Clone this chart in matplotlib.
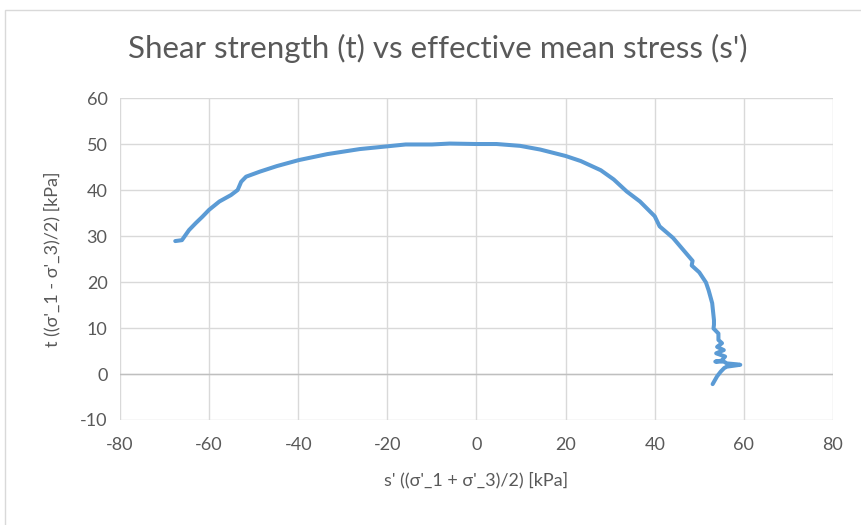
import matplotlib.pyplot as plt
from matplotlib.patches import Rectangle

# ── Stress path (s', t) in kPa ─────────────────
s_eff = [53.0, 54.0, 54.8, 55.6, 56.2, 59.2, 58.5, 56.2, 55.5, 53.6,
         55.0, 55.8, 53.8, 55.5, 54.0, 55.1, 54.3, 54.3, 53.2, 53.3,
         53.3, 52.9, 52.1, 51.5, 50.0, 48.3, 48.5, 46.3, 44.1, 41.1,
         40.0, 36.7, 33.7, 30.8, 27.9, 23.4, 20.0, 14.3, 9.8, 4.5,
         0.0, -6.0, -10.0, -15.9, -20.0, -26.2, -33.5, -39.9, -44.8, -48.6,
         -51.7, -52.8, -53.6, -55.1, -57.7, -60.0, -61.5, -63.0, -64.5, -66.1,
         -67.6]
t_shear = [-2.2, -0.5, 0.5, 1.3, 1.6, 2.0, 2.1, 2.3, 2.7, 2.7,
           2.9, 3.8, 4.5, 5.2, 5.9, 6.7, 7.4, 8.8, 9.9, 10.7,
           11.7, 15.4, 18.2, 19.9, 22.1, 23.6, 24.6, 27.1, 29.6, 32.1,
           34.3, 37.5, 39.7, 42.3, 44.3, 46.3, 47.4, 48.8, 49.6, 50.0,
           50.0, 50.1, 49.9, 49.9, 49.5, 48.9, 47.8, 46.5, 45.2, 44.0,
           42.9, 41.8, 40.0, 38.9, 37.5, 35.7, 34.2, 32.8, 31.3, 29.1,
           28.9]

x_ticks = list(range(-80, 81, 20))
y_ticks = list(range(-10, 61, 10))

TEXT = "#595959"
GRID = "#D9D9D9"
BLUE = "#5B9BD5"

plt.rcParams["font.family"] = ["Lato", "DejaVu Sans"]
plt.rcParams["axes.unicode_minus"] = False

fig = plt.figure(figsize=(8.62, 5.25), dpi=100)
ax = fig.add_axes([0.1392, 0.2, 0.8271, 0.6133])

# chart frame
fig.patches.append(Rectangle((5 / 862, -0.1), 1.2, 1.1 - 10 / 525,
                             transform=fig.transFigure, fill=False,
                             edgecolor=GRID, linewidth=1.0))

ax.plot(s_eff, t_shear, color=BLUE, linewidth=2.9,
        solid_joinstyle="round", solid_capstyle="round", zorder=3)

ax.set_xlim(-80, 80)
ax.set_ylim(-10, 60)
ax.set_xticks(x_ticks)
ax.set_yticks(y_ticks)
ax.grid(True, color=GRID, linewidth=1.0)
ax.axhline(0, color="#BFBFBF", linewidth=1.0, zorder=2)
ax.set_axisbelow(True)
for sp in ax.spines.values():
    sp.set_visible(False)
ax.tick_params(axis="x", length=0, labelsize=13, labelcolor=TEXT, pad=12)
ax.tick_params(axis="y", length=0, labelsize=13, labelcolor=TEXT, pad=9)

ax.set_xlabel("s' ((σ'_1 + σ'_3)/2) [kPa]", fontsize=13, color=TEXT, labelpad=14)
ax.set_ylabel("t ((σ'_1 - σ'_3)/2) [kPa]", fontsize=13, color=TEXT, labelpad=14)

fig.text(0.508, 1 - 48 / 525, "Shear strength (t) vs effective mean stress (s')",
         ha="center", va="center", fontsize=22.5, color=TEXT)

plt.savefig("out.png", dpi=100)
